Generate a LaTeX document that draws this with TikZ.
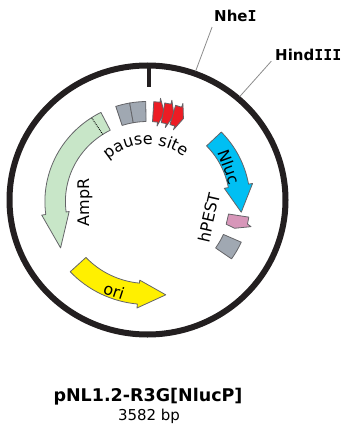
\documentclass[tikz,border=0pt]{standalone}
\usepackage{fontspec}
\setmainfont{DejaVu Sans}
\newfontfamily\serifI{DejaVu Sans Mono}
\usetikzlibrary{decorations.text}
\definecolor{ringc}{RGB}{35,31,32}
\definecolor{featline}{RGB}{100,100,104}
\definecolor{ampf}{RGB}{200,230,200}
\definecolor{nlucf}{RGB}{0,191,243}
\definecolor{orif}{RGB}{255,240,0}
\definecolor{pestf}{RGB}{215,150,185}
\definecolor{grayf}{RGB}{160,168,178}
\definecolor{redf}{RGB}{237,28,36}
\definecolor{leader}{RGB}{140,140,140}
\newcommand{\lblfont}{\fontsize{16}{19}\selectfont}
\newcommand{\bI}{{\serifI\bfseries I}}
\begin{document}
\begin{tikzpicture}[x=1pt,y=-1pt,
  feat/.style={draw=featline, line width=0.8pt, line join=round},
  lbl/.style={font=\lblfont, inner sep=0pt},
  enzyme/.style={font=\bfseries\fontsize{15}{18}\selectfont, inner sep=0pt, anchor=west},
  leaderline/.style={draw=leader, line width=0.8pt}]
\useasboundingbox (0,0) rectangle (343,430);
% backbone ring
\begin{scope}[shift={(147.5,200)}, xscale=1.026]
  \draw[line width=6pt, ringc] (0,0) circle[radius=134.5];
  \coordinate (nheA) at ({20-90}:137);
  \coordinate (nheB) at ({20-90}:184);
  \coordinate (hindA) at ({41-90}:137);
  \coordinate (hindB) at ({41-90}:184);
\end{scope}
\coordinate (tickA) at (148.5,66);
\coordinate (tickB) at (148.5,87);
\draw[line width=4pt, ringc] (tickA) -- (tickB);
% enzyme labels
\node[enzyme] (nhe) at (214,16) {Nhe\bI};
\node[enzyme] (hind) at (275,55) {Hind\bI\bI\bI};
\draw[leaderline] (nheA) -- (nheB);
\draw[leaderline] (hindA) -- (hindB);
% features
\begin{scope}[shift={(147.5,201.5)}, xscale=1.026]
  % AmpR (counterclockwise)
  \draw[feat, fill=ampf] ({-27-90}:100) arc[start angle=-117, end angle=-187.5, radius=100]
     -- ({-97.5-90}:104) -- ({-118.7-90}:96.6) -- ({-97.5-90}:77) -- ({-97.5-90}:80)
     arc[start angle=-187.5, end angle=-117, radius=80] -- cycle;
  \draw[densely dotted, line width=0.9pt] ({-33-90}:80) -- ({-33-90}:100);
  % Nluc (clockwise)
  \draw[feat, fill=nlucf] ({46-90}:100) arc[start angle=-44, end angle=-10, radius=100]
     -- ({80-90}:104) -- ({96.7-90}:92) -- ({80-90}:76) -- ({80-90}:80)
     arc[start angle=-10, end angle=-44, radius=80] -- cycle;
  % ori (counterclockwise)
  \draw[feat, fill=orif] ({-133-90}:103) arc[start angle=-223, end angle=-264.5, radius=103]
     -- ({-174.5-90}:107) -- ({-190.8-90}:95) -- ({-174.5-90}:79) -- ({-174.5-90}:82)
     arc[start angle=-264.5, end angle=-223, radius=82] -- cycle;
  % gray boxes at top
  \draw[feat, fill=grayf] ({-18-90}:80) -- ({-18-90}:100) arc[start angle=-108, end angle=-100, radius=100]
     -- ({-10-90}:80) arc[start angle=-100, end angle=-108, radius=80] -- cycle;
  \draw[feat, fill=grayf] ({-10-90}:80) -- ({-10-90}:100) arc[start angle=-100, end angle=-91, radius=100]
     -- ({-1-90}:80) arc[start angle=-91, end angle=-100, radius=80] -- cycle;
  % red small arrows
  \foreach \a in {3.5,9.7,15.9}{
    \draw[feat, fill=redf] ({\a-90}:80) -- ({\a-90}:100) -- ({\a+3.5-90}:100) -- ({\a+3.5-90}:104)
      -- ({\a+7-90}:90) -- ({\a+3.5-90}:76) -- ({\a+3.5-90}:80) -- cycle;
  }
  % hPEST
  \draw[feat, fill=pestf] ({99-90}:80) -- ({99-90}:100) -- ({103-90}:100) -- ({104-90}:104)
     -- ({107.5-90}:89) -- ({106.5-90}:80) -- cycle;
  % gray box after hPEST
  \draw[feat, fill=grayf] ({114-90}:81) -- ({114-90}:100) arc[start angle=24, end angle=35, radius=100]
     -- ({125-90}:81) arc[start angle=35, end angle=24, radius=81] -- cycle;
\end{scope}
% curved label
\path[decorate, decoration={text along path, text align=center, text={|\lblfont|pause site}}]
  (147.5,201.5) ++(-152:58.5 and 57) arc[start angle=-152, end angle=-32, x radius=58.5, y radius=57];
% feature labels
\node[lbl, rotate=90] (amp) at (85,202.5) {AmpR};
\node[lbl, rotate=-70] (nluc) at (229.5,167) {Nluc};
\node[lbl, rotate=77] (hpest) at (209,217.5) {hPEST};
\node[lbl, rotate=-18] (orilbl) at (114,291) {ori};
% title
\node[font=\bfseries\fontsize{17.5}{20}\selectfont, inner sep=0pt] (title) at (148,397) {pNL1.2-R3G[NlucP]};
\node[font=\fontsize{15}{17}\selectfont, inner sep=0pt] (bp) at (149,416) {3582 bp};
\end{tikzpicture}
\end{document}
